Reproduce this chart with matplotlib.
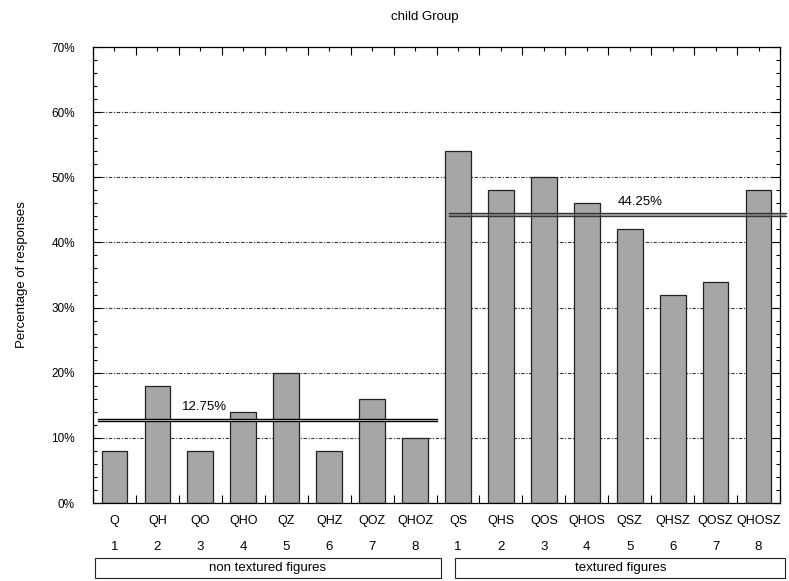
import numpy as np
import matplotlib.pyplot as plt
from matplotlib.patches import Rectangle

# Response percentages per figure type
plain_names = ['Q', 'QH', 'QO', 'QHO', 'QZ', 'QHZ', 'QOZ', 'QHOZ']
textured_names = ['QS', 'QHS', 'QOS', 'QHOS', 'QSZ', 'QHSZ', 'QOSZ', 'QHOSZ']
plain_values = [8, 18, 8, 14, 20, 8, 16, 10]
textured_values = [54, 48, 50, 46, 42, 32, 34, 48]
group_names = ['non textured figures', 'textured figures']

names = plain_names + textured_names
values = plain_values + textured_values
numbers = [str(i + 1) for i in range(8)] * 2
plain_mean = np.mean(plain_values)
textured_mean = np.mean(textured_values)

plt.rcParams['font.family'] = ['Liberation Sans', 'DejaVu Sans']

fig = plt.figure(figsize=(7.89, 5.81), dpi=100)
ax = fig.add_axes([93 / 789, 1 - 503 / 581, 687 / 789, 456 / 581])

x = np.arange(len(values)) + 0.5
ax.set_xlim(0, 16)
ax.set_ylim(0, 70)

# dotted grid at every 10%
for g in range(10, 70, 10):
    ax.axhline(g, color='#333333', lw=0.8, dashes=(3, 1.5, 1, 1.5), zorder=1)

ax.bar(x, values, width=0.6, color='#a6a6a6', edgecolor='#222222', linewidth=0.9, zorder=2)

# group averages as double lines
def mean_line(y, x0, x1, line_color, fill_color, alpha):
    ax.fill_between([x0, x1], y - 0.2, y + 0.2, color=fill_color, alpha=alpha, lw=0, zorder=3, clip_on=False)
    for dy in (-0.2, 0.2):
        ax.plot([x0, x1], [y + dy, y + dy], color=line_color, lw=1.0, zorder=4, clip_on=False)

mean_line(plain_mean, 0.12, 8.0, 'black', 'white', 1.0)
mean_line(textured_mean, 8.3, 16.15, '#333333', '#777777', 0.6)
ax.text(2.6, plain_mean + 1.0, f'{plain_mean:.2f}%', ha='center', va='bottom', fontsize=9.5, zorder=5)
ax.text(12.75, textured_mean + 1.0, f'{textured_mean:.2f}%', ha='center', va='bottom', fontsize=9.5, zorder=5)

# ticks
ax.set_xticks(np.arange(0, 17))
ax.set_xticks(x, minor=True)
ax.set_xticklabels([])
ax.set_yticks(range(0, 71, 10))
ax.set_yticks(range(0, 71, 2), minor=True)
ax.set_yticklabels([f'{v}%' for v in range(0, 71, 10)], fontsize=8.5)
ax.tick_params(which='both', direction='in', top=True, right=True, width=0.8)
ax.tick_params(which='major', length=6)
ax.tick_params(which='minor', length=3)
ax.tick_params(axis='y', pad=13)
for s in ax.spines.values():
    s.set_linewidth(0.9)

# category labels under each bar
trans = ax.get_xaxis_transform()
for xi, nm, num in zip(x, names, numbers):
    ax.text(xi, -0.04, nm, transform=trans, ha='center', va='center', fontsize=9)
    ax.text(xi, -0.096, num, transform=trans, ha='center', va='center', fontsize=9.5)

# group boxes
for (x0, x1), label in zip([(0.05, 8.1), (8.44, 16.12)], group_names):
    ax.add_patch(Rectangle((x0, -0.164), x1 - x0, 0.044, transform=trans, fill=False,
                           edgecolor='#222222', lw=0.8, clip_on=False))
    ax.text((x0 + x1) / 2, -0.142, label, transform=trans, ha='center', va='center', fontsize=9.5)

ax.set_ylabel('Percentage of responses', fontsize=9.5, labelpad=17)
fig.text(425 / 789, 1 - 17 / 581, 'child Group', ha='center', va='center', fontsize=9.5)

fig.savefig('out.png', dpi=100)
